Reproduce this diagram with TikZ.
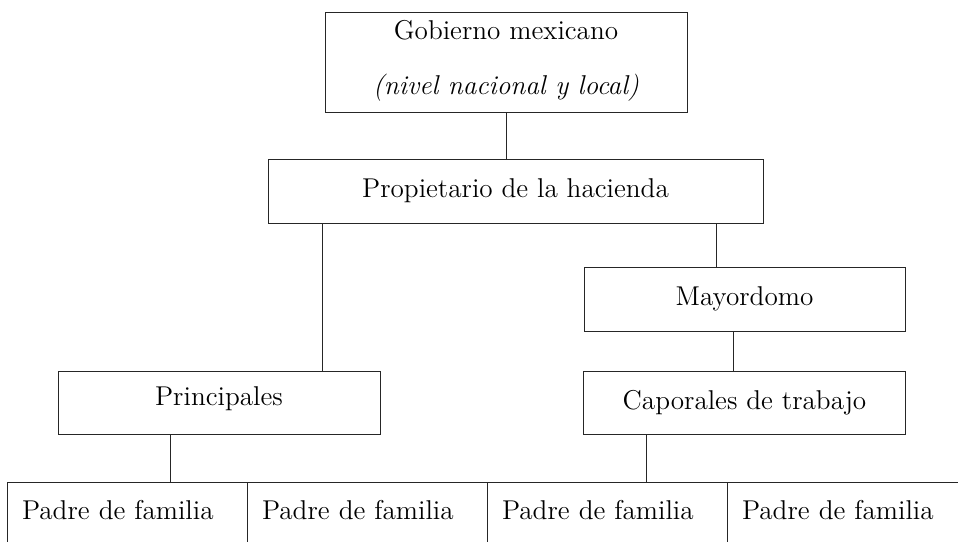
\documentclass[tikz,border=0pt]{standalone}
\usetikzlibrary{positioning}

\begin{document}
\begin{tikzpicture}[x=0.5pt,y=-0.5pt,line width=0.5pt,draw=black!85,
    caja/.style={draw, inner sep=0pt, outer sep=0pt, align=center,
      font=\fontsize{13.6}{16}\selectfont},
    padre/.style={caja, minimum width=120pt, minimum height=36pt,
      text width=105pt, text depth=8pt, inner xsep=7.5pt, align=left}]
  \useasboundingbox (0,0) rectangle (958,541);
  \clip (0,0) rectangle (958,541);
  % niveles superiores
  \node[caja, minimum width=181pt, minimum height=50pt] (gob) at (506,62)
    {Gobierno mexicano\\[11.5pt]\textit{(nivel nacional y local)}\rule[-5pt]{0pt}{1pt}};
  \node[caja, minimum width=247.5pt, minimum height=32pt] (prop) at (515.5,191) {Propietario de la hacienda};
  \node[caja, minimum width=160.5pt, minimum height=32pt] (may) at (744.5,299) {Mayordomo};
  \node[caja, minimum width=161pt, minimum height=31.5pt, below=20pt of may] (cap) {Caporales de trabajo};
  \node[caja, minimum width=161pt, minimum height=31.5pt, text depth=6pt] (prin) at (219,402.5) {Principales};
  % padres de familia
  \node[padre] (pf1) at (127,518) {Padre de familia};
  \node[padre, right=0pt of pf1] (pf2) {Padre de familia};
  \node[padre, right=0pt of pf2] (pf3) {Padre de familia};
  \node[padre, right=0pt of pf3] (pf4) {Padre de familia};
  % lineas
  \draw (gob.south) -- (gob.south |- prop.north);
  \draw ([xshift=27pt]prop.south west) -- ([xshift=27pt]prop.south west |- prin.north);
  \draw ([xshift=66pt]may.north west) -- ([xshift=66pt]may.north west |- prop.south);
  \draw ([xshift=-5.5pt]may.south) -- ([xshift=-5.5pt]may.south |- cap.north);
  \draw ([xshift=-24.5pt]prin.south) -- ([xshift=-24.5pt]prin.south |- pf1.north);
  \draw ([xshift=-49pt]cap.south) -- ([xshift=-49pt]cap.south |- pf3.north);
\end{tikzpicture}
\end{document}
